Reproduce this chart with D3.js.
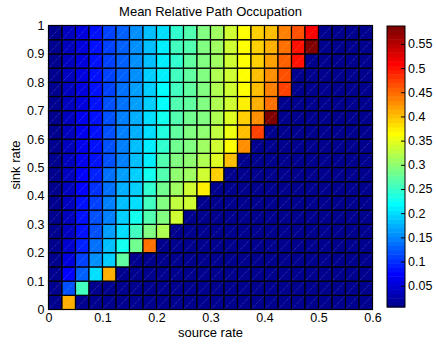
<!DOCTYPE html>
<html>
<head>
<meta charset="utf-8">
<script src="https://cdn.jsdelivr.net/npm/d3@7"></script>
<style>
    body { margin: 0; background: #fff; }
    text { font-family: "Liberation Sans", Arial, sans-serif; fill: #000; }
</style>
</head>
<body>
<div class="chart"></div>
<script>
var svgWidth = 436;
var svgHeight = 344;

// cell edges (left edge of each column, bottom edge of each row)
var sourceRates = [0, 0.025, 0.05, 0.075, 0.1, 0.125, 0.15, 0.175, 0.2, 0.225, 0.25, 0.275,
    0.3, 0.325, 0.35, 0.375, 0.4, 0.425, 0.45, 0.475, 0.5, 0.525, 0.55, 0.575];
var sinkRates = [0, 0.05, 0.1, 0.15, 0.2, 0.25, 0.3, 0.35, 0.4, 0.45, 0.5, 0.55,
    0.6, 0.65, 0.7, 0.75, 0.8, 0.85, 0.9, 0.95];
var sourceStep = 0.025;
var sinkStep = 0.05;

var xTicks = [0, 0.1, 0.2, 0.3, 0.4, 0.5, 0.6];
var yTicks = [0, 0.1, 0.2, 0.3, 0.4, 0.5, 0.6, 0.7, 0.8, 0.9, 1];
var colorTicks = [0.05, 0.1, 0.15, 0.2, 0.25, 0.3, 0.35, 0.4, 0.45, 0.5, 0.55];
var colorLimits = [0.006, 0.587];

// empty (dark blue) cells
var e = 0.006;

// one row per sink rate, bottom row first, 24 columns each
var occupation = [
    [.008, .413, e, e, e, e, e, e, e, e, e, e, e, e, e, e, e, e, e, e, e, e, e, e],
    [.008, .115, .26, e, e, e, e, e, e, e, e, e, e, e, e, e, e, e, e, e, e, e, e, e],
    [.008, .071, .129, .202, .413, e, e, e, e, e, e, e, e, e, e, e, e, e, e, e, e, e, e, e],
    [.008, .057, .108, .159, .195, .275, e, e, e, e, e, e, e, e, e, e, e, e, e, e, e, e, e, e],
    [.008, .05, .093, .137, .18, .224, .282, .449, e, e, e, e, e, e, e, e, e, e, e, e, e, e, e, e],
    [.008, .042, .086, .122, .166, .202, .253, .289, .318, e, e, e, e, e, e, e, e, e, e, e, e, e, e, e],
    [.008, .035, .079, .115, .151, .188, .224, .267, .296, .34, e, e, e, e, e, e, e, e, e, e, e, e, e, e],
    [.008, .042, .079, .108, .144, .18, .202, .253, .296, .326, .34, e, e, e, e, e, e, e, e, e, e, e, e, e],
    [.008, .035, .071, .1, .137, .173, .195, .246, .282, .311, .34, .376, e, e, e, e, e, e, e, e, e, e, e, e],
    [.008, .035, .071, .093, .137, .166, .188, .224, .267, .304, .311, .333, .39, e, e, e, e, e, e, e, e, e, e, e],
    [.008, .035, .064, .086, .122, .151, .18, .209, .267, .289, .3, .318, .35, .398, e, e, e, e, e, e, e, e, e, e],
    [.008, .035, .064, .086, .122, .151, .18, .209, .246, .282, .296, .311, .34, .369, .427, e, e, e, e, e, e, e, e, e],
    [.008, .035, .064, .079, .122, .144, .173, .202, .238, .275, .289, .304, .326, .355, .405, .471, e, e, e, e, e, e, e, e],
    [.008, .035, .064, .079, .115, .144, .173, .202, .224, .267, .282, .296, .318, .348, .391, .427, .578, e, e, e, e, e, e, e],
    [.008, .035, .06, .079, .115, .14, .166, .195, .22, .264, .278, .296, .315, .34, .376, .413, .449, e, e, e, e, e, e, e],
    [.008, .035, .06, .079, .112, .137, .163, .192, .215, .26, .275, .296, .315, .34, .369, .4, .434, .471, e, e, e, e, e, e],
    [.008, .035, .058, .079, .11, .133, .159, .188, .21, .253, .272, .296, .315, .34, .365, .398, .427, .464, e, e, e, e, e, e],
    [.008, .035, .058, .079, .108, .13, .155, .184, .206, .249, .27, .296, .311, .34, .362, .391, .42, .456, .5, e, e, e, e, e],
    [.008, .035, .057, .079, .108, .129, .155, .184, .206, .253, .267, .296, .311, .34, .362, .39, .413, .442, .5, .58, e, e, e, e],
    [.008, .035, .057, .079, .108, .129, .155, .18, .202, .246, .267, .296, .311, .34, .362, .39, .405, .434, .46, .514, e, e, e, e]
];

// jet colormap, 64 entries like MATLAB
function jet(t) {
    var c = function (v) { return Math.max(0, Math.min(1, v)); };
    var r = c(Math.min(4 * t - 1.5, -4 * t + 4.5));
    var g = c(Math.min(4 * t - 0.5, -4 * t + 3.5));
    var b = c(Math.min(4 * t + 0.5, -4 * t + 2.5));
    return d3.rgb(r * 255, g * 255, b * 255).toString();
}
var nColors = 64;
var colormap = d3.range(nColors).map(function (k) { return jet((k + 1) / nColors); });

function colorFor(v) {
    var k = Math.floor((v - colorLimits[0]) / (colorLimits[1] - colorLimits[0]) * nColors);
    k = Math.max(0, Math.min(nColors - 1, k));
    return colormap[k];
}

var svg = d3.select(".chart")
    .append("svg")
    .attr("width", svgWidth)
    .attr("height", svgHeight);

var xScale = d3.scaleLinear().domain([0, 0.6]).range([48.5, 372.5]);
var yScale = d3.scaleLinear().domain([0, 1]).range([309.5, 25.5]);

// flatten rows into cells
var cells = [];
occupation.forEach(function (row, j) {
    row.forEach(function (v, i) {
        cells.push({ source: sourceRates[i], sink: sinkRates[j], value: v });
    });
});

var cellGroup = svg.append("g");

cellGroup.selectAll("rect")
    .data(cells)
    .enter()
    .append("rect")
    .attr("x", d => xScale(d.source))
    .attr("y", d => yScale(d.sink + sinkStep))
    .attr("width", d => xScale(d.source + sourceStep) - xScale(d.source))
    .attr("height", d => yScale(d.sink) - yScale(d.sink + sinkStep))
    .attr("fill", d => colorFor(d.value))
    .attr("stroke", "#000")
    .attr("stroke-width", 1.2);

// faint diagonal seam inside each cell
cellGroup.selectAll("line")
    .data(cells)
    .enter()
    .append("line")
    .attr("x1", d => xScale(d.source) + 1)
    .attr("y1", d => yScale(d.sink) - 1)
    .attr("x2", d => xScale(d.source + sourceStep) - 1)
    .attr("y2", d => yScale(d.sink + sinkStep) + 1)
    .attr("stroke", "rgba(255,255,255,0.35)")
    .attr("stroke-width", 0.7)
    .attr("stroke-dasharray", "1,1");

// axes box
svg.append("rect")
    .attr("x", xScale(0))
    .attr("y", yScale(1))
    .attr("width", xScale(0.6) - xScale(0))
    .attr("height", yScale(0) - yScale(1))
    .attr("fill", "none")
    .attr("stroke", "#000")
    .attr("stroke-width", 1);

// x axis labels
var xAxis = svg.append("g")
    .attr("transform", `translate(0, ${yScale(0)})`)
    .call(d3.axisBottom(xScale).tickValues(xTicks).tickSize(0).tickPadding(4).tickFormat(d3.format("")));
xAxis.select(".domain").remove();
xAxis.selectAll("text").style("font-size", "12.5px");

// y axis labels
var yAxis = svg.append("g")
    .attr("transform", `translate(${xScale(0)}, 0)`)
    .call(d3.axisLeft(yScale).tickValues(yTicks).tickSize(0).tickPadding(4).tickFormat(d3.format("")));
yAxis.select(".domain").remove();
yAxis.selectAll("text").style("font-size", "12.5px");

// title and axis titles
svg.append("text")
    .attr("x", 210.5)
    .attr("y", 16)
    .attr("text-anchor", "middle")
    .style("font-size", "13px")
    .text("Mean Relative Path Occupation");

svg.append("text")
    .attr("x", 210.5)
    .attr("y", 337)
    .attr("text-anchor", "middle")
    .style("font-size", "13px")
    .text("source rate");

svg.append("text")
    .attr("transform", "rotate(-90)")
    .attr("x", -165)
    .attr("y", 20)
    .attr("text-anchor", "middle")
    .style("font-size", "13px")
    .text("sink rate");

// colorbar
var cbScale = d3.scaleLinear().domain(colorLimits).range([307, 26]);
var cbLeft = 387;
var cbWidth = 18;
var bandStep = (colorLimits[1] - colorLimits[0]) / nColors;

svg.append("g")
    .selectAll("rect")
    .data(colormap)
    .enter()
    .append("rect")
    .attr("x", cbLeft)
    .attr("y", (d, k) => cbScale(colorLimits[0] + (k + 1) * bandStep))
    .attr("width", cbWidth)
    .attr("height", (d, k) => cbScale(colorLimits[0] + k * bandStep) - cbScale(colorLimits[0] + (k + 1) * bandStep) + 0.5)
    .attr("fill", d => d);

svg.append("rect")
    .attr("x", cbLeft)
    .attr("y", cbScale(colorLimits[1]))
    .attr("width", cbWidth)
    .attr("height", cbScale(colorLimits[0]) - cbScale(colorLimits[1]))
    .attr("fill", "none")
    .attr("stroke", "#000")
    .attr("stroke-width", 1);

var cbAxis = svg.append("g")
    .attr("transform", `translate(${cbLeft + cbWidth}, 0)`)
    .call(d3.axisRight(cbScale).tickValues(colorTicks).tickSize(-4).tickPadding(3).tickFormat(d3.format("")));
cbAxis.select(".domain").remove();
cbAxis.selectAll("text").style("font-size", "12.5px");
cbAxis.selectAll("line").attr("stroke", "#000");
</script>
</body>
</html>
